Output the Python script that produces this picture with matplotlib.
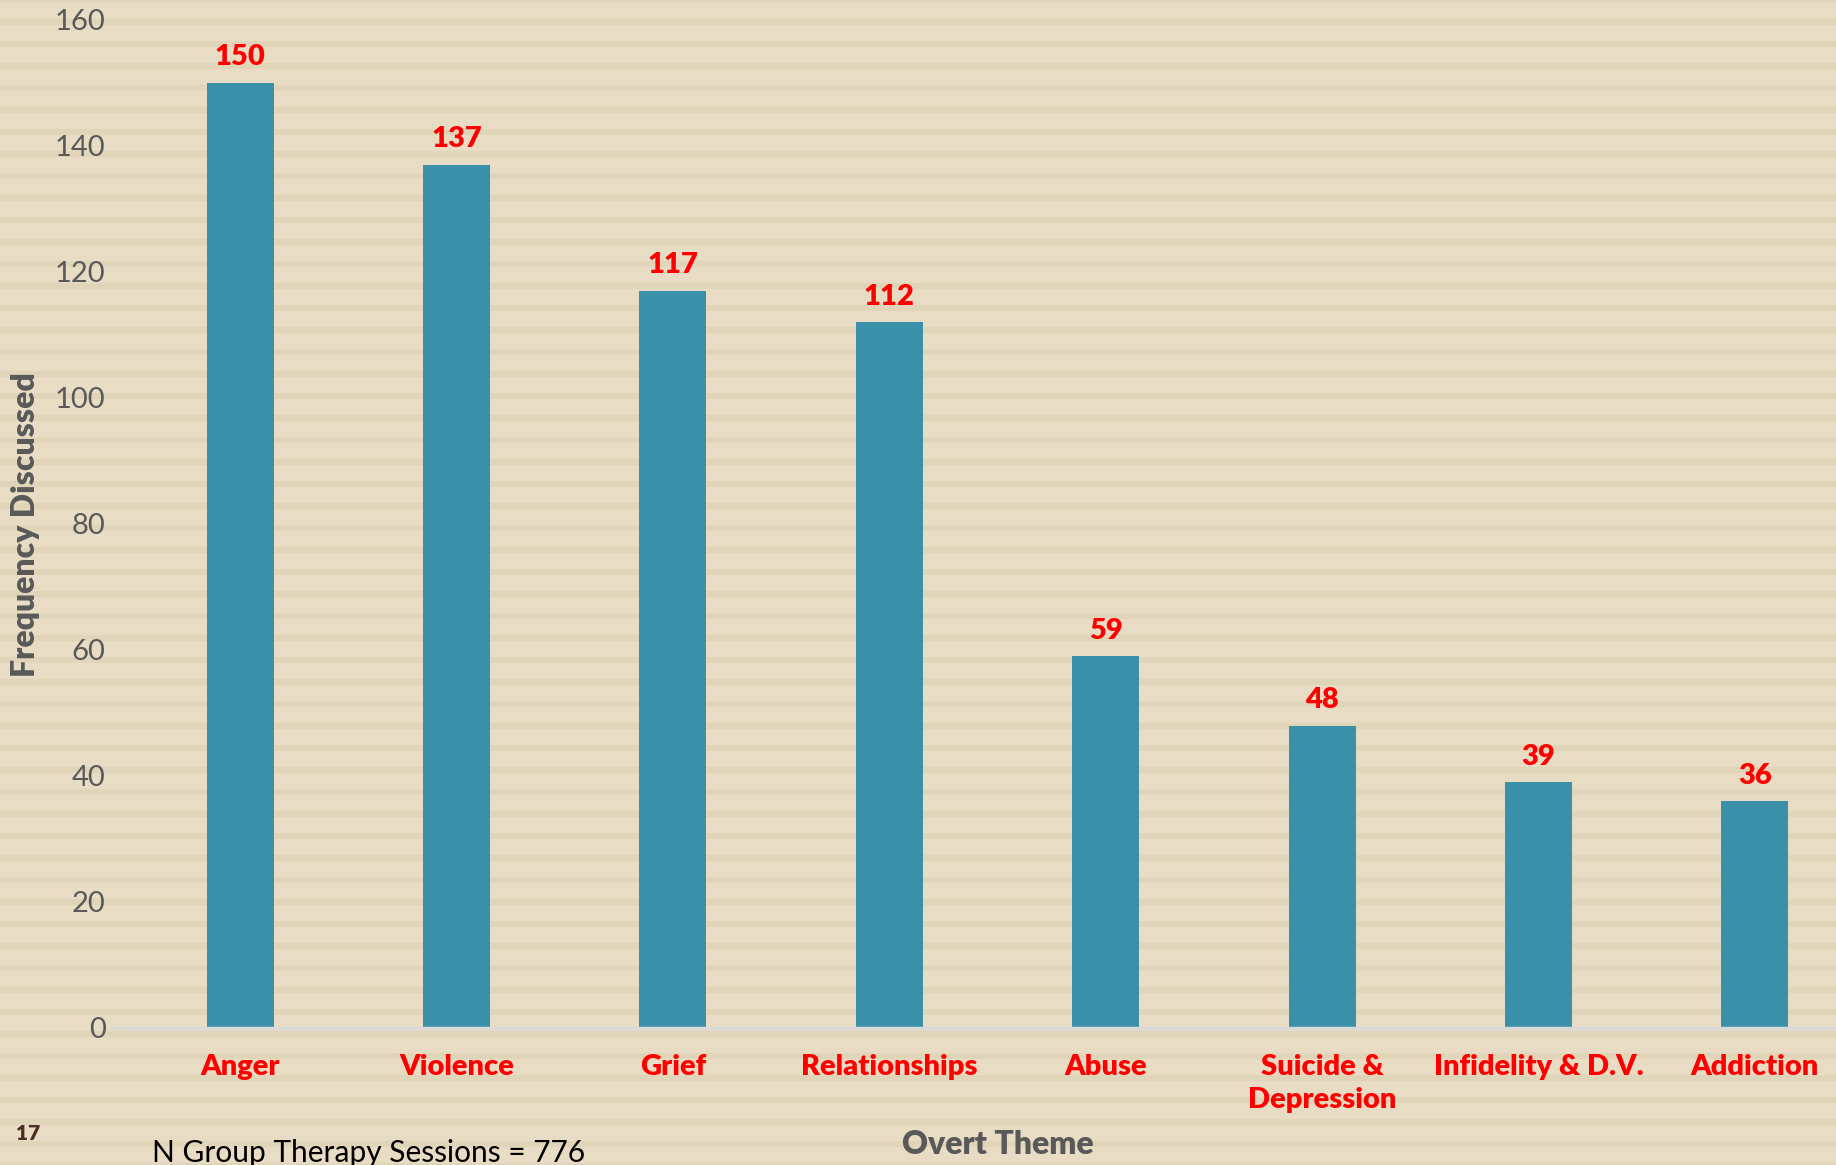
import numpy as np
import matplotlib
matplotlib.use("Agg")
import matplotlib.pyplot as plt
from matplotlib.patches import Rectangle

# 数据
themes = ["Anger", "Violence", "Grief", "Relationships", "Abuse",
          "Suicide &\nDepression", "Infidelity & D.V.", "Addiction"]
frequency = [150, 137, 117, 112, 59, 48, 39, 36]
y_ticks = [0, 20, 40, 60, 80, 100, 120, 140, 160]

plt.rcParams['font.family'] = ['Lato', 'DejaVu Sans']

W, H = 1836, 1165
fig = plt.figure(figsize=(W / 100, H / 100), dpi=100)
fig.patch.set_facecolor('#E8DDC4')

# 背景横条纹
for y0 in np.arange(H - 3, -22, -22.0):
    fig.add_artist(Rectangle((0, y0 / H), 1, 6 / H, transform=fig.transFigure,
                             facecolor='#E0D5B8', edgecolor='none', zorder=0))

# 坐标区（右侧超出画布，与原图一致）
ax = fig.add_axes([132 / W, 1 - 1028 / H, 1731 / W, (1028 - 20) / H])
ax.set_facecolor('none')

x = np.arange(len(themes))
bars = ax.bar(x, frequency, width=0.31, color='#3A90A8', zorder=3)
ax.bar_label(bars, padding=9, color='#FF0000', fontweight='heavy', fontsize=21)

ax.set_xlim(-0.5, len(themes) - 0.5)
ax.set_ylim(0, 160)
ax.set_yticks(y_ticks)
ax.set_xticks(x)
ax.set_xticklabels(themes, color='#FF0000', fontweight='heavy', fontsize=21,
                   linespacing=1.3)
ax.tick_params(axis='y', length=0, pad=19, labelsize=21, labelcolor='#595959')
ax.tick_params(axis='x', length=0, pad=19)

for s in ['top', 'right', 'left']:
    ax.spines[s].set_visible(False)
ax.spines['bottom'].set_color('#D9D9D9')
ax.spines['bottom'].set_linewidth(2.5)
ax.spines['bottom'].set_zorder(4)
ax.spines['bottom'].set_bounds(-0.58, len(themes) - 0.5)

ax.set_ylabel('Frequency Discussed', fontsize=23, fontweight='heavy', color='#595959')
ax.yaxis.set_label_coords(26 / W, 1 - 525 / H, transform=fig.transFigure)
ax.set_xlabel('Overt Theme', fontsize=23, fontweight='heavy', color='#595959')
ax.xaxis.set_label_coords(998 / W, 1 - 1145 / H, transform=fig.transFigure)
ax.xaxis.label.set_va('center')
ax.yaxis.label.set_va('center')

fig.text(152 / W, 1 - 1153 / H, 'N Group Therapy Sessions = 776',
         fontsize=21.5, color='black', va='center', ha='left')
fig.text(16 / W, 1 - 1133 / H, '17', fontsize=15, fontweight='heavy',
         color='#4A2E22', va='center', ha='left')

fig.savefig('out.png', dpi=100, facecolor=fig.get_facecolor())
